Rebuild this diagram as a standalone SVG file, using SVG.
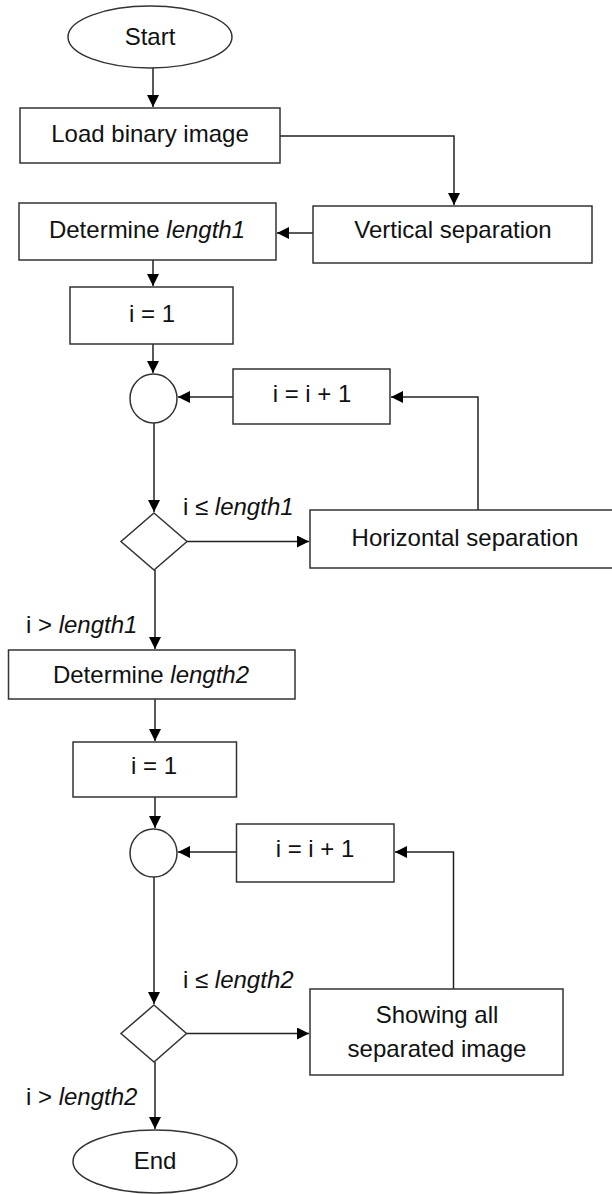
<svg xmlns="http://www.w3.org/2000/svg" width="612" height="1194" viewBox="0 0 612 1194">
<style>
.n{fill:#fff;stroke:#333;stroke-width:1.5}
.c{fill:none;stroke:#222;stroke-width:1.5}
text{font-family:"Liberation Sans",Arial,sans-serif;font-size:24px;fill:#111}
.m{text-anchor:middle}
.it{font-style:italic}
</style>
<defs>
<marker id="a" markerUnits="userSpaceOnUse" markerWidth="13" markerHeight="12" refX="12" refY="6" orient="auto">
<path d="M0,0 L12,6 L0,12 Z" fill="#000"/>
</marker>
</defs>
<g id="connectors">
<path class="c" d="M153 68 V107" marker-end="url(#a)"/>
<path class="c" d="M280 136 H454 V205" marker-end="url(#a)"/>
<path class="c" d="M313 233 H277" marker-end="url(#a)"/>
<path class="c" d="M153 260 V286" marker-end="url(#a)"/>
<path class="c" d="M153 344 V373" marker-end="url(#a)"/>
<path class="c" d="M233 397 H178" marker-end="url(#a)"/>
<path class="c" d="M478 510 V397 H391" marker-end="url(#a)"/>
<path class="c" d="M154 423 V512" marker-end="url(#a)"/>
<path class="c" d="M187 541.5 H309" marker-end="url(#a)"/>
<path class="c" d="M155 570 V649" marker-end="url(#a)"/>
<path class="c" d="M155 699 V741" marker-end="url(#a)"/>
<path class="c" d="M155 797 V828" marker-end="url(#a)"/>
<path class="c" d="M236.5 852 H178" marker-end="url(#a)"/>
<path class="c" d="M453.5 989 V852 H395" marker-end="url(#a)"/>
<path class="c" d="M154 877 V1004" marker-end="url(#a)"/>
<path class="c" d="M186.5 1033.5 H309" marker-end="url(#a)"/>
<path class="c" d="M155 1062 V1129" marker-end="url(#a)"/>
<text x="183" y="515">i ≤ <tspan class="it">length1</tspan></text>
<text x="26" y="633">i &gt; <tspan class="it">length1</tspan></text>
<text x="183" y="988">i ≤ <tspan class="it">length2</tspan></text>
<text x="26" y="1105">i &gt; <tspan class="it">length2</tspan></text>
</g>
<g id="start"><ellipse class="n" cx="150" cy="37" rx="82" ry="31"/><text class="m" x="150" y="45">Start</text></g>
<g id="load"><rect class="n" x="20" y="108" width="260" height="55"/><text class="m" x="150" y="142">Load binary image</text></g>
<g id="vsep"><rect class="n" x="313" y="206" width="279" height="57"/><text class="m" x="453" y="238">Vertical separation</text></g>
<g id="det1"><rect class="n" x="19" y="203" width="257" height="57"/><text class="m" x="147" y="238">Determine <tspan class="it">length1</tspan></text></g>
<g id="init1"><rect class="n" x="70" y="287" width="163" height="57"/><text class="m" x="152" y="322">i = 1</text></g>
<g id="join1"><ellipse class="n" cx="153.5" cy="398.5" rx="23.5" ry="24.5"/></g>
<g id="inc1"><rect class="n" x="233" y="369" width="157" height="55"/><text class="m" x="312" y="402">i = i + 1</text></g>
<g id="dec1"><polygon class="n" points="154,513 187,541.5 154,570 121,541.5"/></g>
<g id="hsep"><rect class="n" x="310" y="510" width="320" height="58"/><text class="m" x="465" y="546">Horizontal separation</text></g>
<g id="det2"><rect class="n" x="8.5" y="650" width="286.5" height="49"/><text class="m" x="151" y="683">Determine <tspan class="it">length2</tspan></text></g>
<g id="init2"><rect class="n" x="73" y="742" width="163.5" height="55"/><text class="m" x="154" y="774">i = 1</text></g>
<g id="join2"><ellipse class="n" cx="153.5" cy="853" rx="23.5" ry="24"/></g>
<g id="inc2"><rect class="n" x="236.5" y="824" width="157.5" height="58"/><text class="m" x="315" y="857">i = i + 1</text></g>
<g id="dec2"><polygon class="n" points="154,1005 186.5,1033.5 154,1062 121,1033.5"/></g>
<g id="show"><rect class="n" x="310" y="989" width="253" height="86"/><text class="m" x="437" y="1023">Showing all</text><text class="m" x="437" y="1057">separated image</text></g>
<g id="end"><ellipse class="n" cx="155" cy="1161.5" rx="82" ry="31.5"/><text class="m" x="155" y="1169">End</text></g>
</svg>
